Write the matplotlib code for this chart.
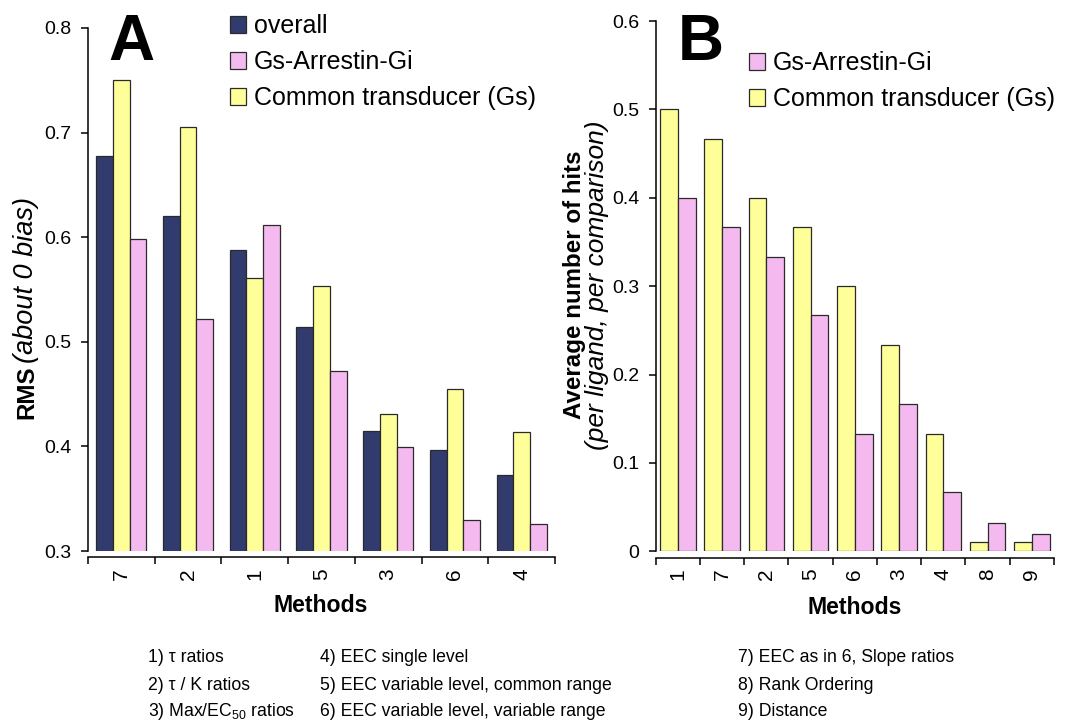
import matplotlib.pyplot as plt
from matplotlib.patches import Patch
import numpy as np

plt.rcParams['font.family'] = ['Liberation Sans', 'DejaVu Sans']
plt.rcParams['mathtext.default'] = 'regular'

# ---- data ----
methods_a = ['7', '2', '1', '5', '3', '6', '4']
overall_a = [0.678, 0.620, 0.588, 0.514, 0.415, 0.397, 0.373]
common_a = [0.750, 0.705, 0.561, 0.553, 0.431, 0.455, 0.414]
gsarr_a = [0.598, 0.522, 0.612, 0.472, 0.399, 0.330, 0.326]
yticks_a = [0.3, 0.4, 0.5, 0.6, 0.7, 0.8]
ytlabels_a = ['0.3', '0.4', '0.5', '0.6', '0.7', '0.8']

methods_b = ['1', '7', '2', '5', '6', '3', '4', '8', '9']
common_b = [0.500, 0.467, 0.400, 0.367, 0.300, 0.233, 0.133, 0.010, 0.010]
gsarr_b = [0.400, 0.367, 0.333, 0.267, 0.133, 0.167, 0.067, 0.032, 0.020]
yticks_b = [0, 0.1, 0.2, 0.3, 0.4, 0.5, 0.6]
ytlabels_b = ['0', '0.1', '0.2', '0.3', '0.4', '0.5', '0.6']

notes_col1 = ['1) \u03c4 ratios', '2) \u03c4 / K ratios', '3) Max/EC$_{50}$ ratios']
notes_col2 = ['4) EEC single level', '5) EEC variable level, common range',
              '6) EEC variable level, variable range']
notes_col3 = ['7) EEC as in 6, Slope ratios', '8) Rank Ordering', '9) Distance']

NAVY = '#323B6D'
PINK = '#F4B9EF'
YELLOW = '#FFFF99'
EDGE = '#2a2a2a'

W, H = 1067, 723


def fx(px):
    return px / W


def fy(py):
    return 1 - py / H


fig = plt.figure(figsize=(W / 100, H / 100), dpi=100)


def style_axes(ax, n):
    """Excel-like axes: left spine, offset category axis with boundary ticks"""
    for s in ['top', 'right']:
        ax.spines[s].set_visible(False)
    ax.spines['bottom'].set_position(('outward', 4.5))
    ax.spines['left'].set_linewidth(1.1)
    ax.spines['bottom'].set_linewidth(1.1)
    ax.set_xlim(-0.5, n - 0.5)
    ax.set_xticks(np.arange(n + 1) - 0.5, minor=True)
    ax.tick_params(axis='x', which='minor', length=5, width=1.1, direction='out')
    ax.tick_params(axis='x', which='major', length=0, pad=8, labelsize=15,
                   labelrotation=90)
    ax.tick_params(axis='y', length=5, width=1.1, direction='out', pad=7,
                   labelsize=14)


def legend_at(handles, x, y):
    fig.legend(handles=handles, loc='upper left', bbox_to_anchor=(fx(x), fy(y)),
               bbox_transform=fig.transFigure, frameon=False, fontsize=18,
               borderpad=0, borderaxespad=0, handlelength=0.65, handleheight=0.65,
               handletextpad=0.3, labelspacing=0.48)


# ---- panel A ----
axa = fig.add_axes([fx(88), fy(551), (555 - 88) / W, (551 - 28) / H])
xa = np.arange(len(methods_a))
bw = 0.25
axa.bar(xa - bw, overall_a, bw, color=NAVY, edgecolor=EDGE, linewidth=0.9)
axa.bar(xa, common_a, bw, color=YELLOW, edgecolor=EDGE, linewidth=0.9)
axa.bar(xa + bw, gsarr_a, bw, color=PINK, edgecolor=EDGE, linewidth=0.9)
axa.set_ylim(0.3, 0.8)
axa.set_yticks(yticks_a)
axa.set_yticklabels(ytlabels_a)
axa.set_xticks(xa)
axa.set_xticklabels(methods_a)
style_axes(axa, len(methods_a))

legend_at([Patch(facecolor=NAVY, edgecolor=EDGE, linewidth=0.9, label='overall'),
           Patch(facecolor=PINK, edgecolor=EDGE, linewidth=0.9, label='Gs-Arrestin-Gi'),
           Patch(facecolor=YELLOW, edgecolor=EDGE, linewidth=0.9, label='Common transducer (Gs)')],
          230, 14)

# ---- panel B ----
axb = fig.add_axes([fx(655.7), fy(551.3), (1054 - 655.7) / W, (551.3 - 21) / H])
xb = np.arange(len(methods_b))
bw = 0.4
axb.bar(xb - bw / 2, common_b, bw, color=YELLOW, edgecolor=EDGE, linewidth=0.9)
axb.bar(xb + bw / 2, gsarr_b, bw, color=PINK, edgecolor=EDGE, linewidth=0.9)
axb.set_ylim(0, 0.6)
axb.set_yticks(yticks_b)
axb.set_yticklabels(ytlabels_b)
axb.set_xticks(xb)
axb.set_xticklabels(methods_b)
style_axes(axb, len(methods_b))

legend_at([Patch(facecolor=PINK, edgecolor=EDGE, linewidth=0.9, label='Gs-Arrestin-Gi'),
           Patch(facecolor=YELLOW, edgecolor=EDGE, linewidth=0.9, label='Common transducer (Gs)')],
          749, 51)

# ---- panel letters ----
fig.text(fx(108), fy(60), 'A', fontsize=46, fontweight='bold', va='baseline', ha='left')
fig.text(fx(678), fy(60), 'B', fontsize=46, fontweight='bold', va='baseline', ha='left')

# ---- axis titles ----
fig.text(fx(321), fy(605), 'Methods', fontsize=16.6, fontweight='bold',
         ha='center', va='center')
fig.text(fx(855), fy(607), 'Methods', fontsize=16.6, fontweight='bold',
         ha='center', va='center')

fig.text(fx(33), fy(419), 'RMS', fontsize=17.4, fontweight='bold', rotation=90,
         rotation_mode='anchor', ha='left', va='baseline')
fig.text(fx(33), fy(363), '(about 0 bias)', fontsize=19.5, style='italic', rotation=90,
         rotation_mode='anchor', ha='left', va='baseline')

fig.text(fx(581), fy(285), 'Average number of hits', fontsize=17.4, fontweight='bold',
         rotation=90, rotation_mode='anchor', ha='center', va='baseline')
fig.text(fx(604), fy(285), '(per ligand, per comparison)', fontsize=19, style='italic',
         rotation=90, rotation_mode='anchor', ha='center', va='baseline')

# ---- method key ----
rows_y = [657, 685, 712]
for col_x, notes in zip([148, 320, 738], [notes_col1, notes_col2, notes_col3]):
    for ry, t in zip(rows_y, notes):
        fig.text(fx(col_x), fy(ry), t, fontsize=12.7, ha='left', va='center')

fig.savefig('out.png', dpi=100)
